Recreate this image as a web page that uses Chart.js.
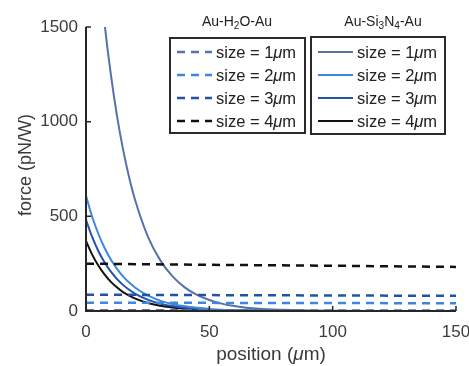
<!DOCTYPE html>
<html><head><meta charset="utf-8">
<script src="https://cdn.jsdelivr.net/npm/chart.js@4/dist/chart.umd.min.js"></script>
<style>html,body{margin:0;padding:0;background:#fff}canvas{display:block}</style>
</head><body>
<canvas id="c" width="469" height="366"></canvas>
<script>
// ---- data ----
const positions = [0,2.5,5,7.5,10,12.5,15,17.5,20,25,30,35,40,45,50,55,60,70,80,90,100,125,150];
const si1 = [2710,2236,1845,1522,1256,1036,855,705,582,396,270,184,125,85,58,39,27,12,6,3,1,0,0];
const si2 = [608,498,408,334,273,224,183,150,123,82,55,37,25,17,11,7,5,2,1,0,0,0,0];
const si3 = [481,391,317,257,209,170,138,112,91,60,39,26,17,11,7,5,3,1,0,0,0,0,0];
const si4 = [370,298,240,193,155,125,100,81,65,42,28,19,12,8,5,3,2,1,0,0,0,0,0];
const flatPositions = [0,50,100,150];
const h2o1 = [4,4,3,3];
const h2o2 = [44,43,42,41];
const h2o3 = [86,84,82,80];
const h2o4 = [250,244,239,233];
const sizeLabels = ['1','2','3','4'];
const yTicks = [0,500,1000,1500];
const xTicks = [0,50,100,150];

const colors = ['#5573a8','#3d88dc','#2452a6','#111111'];
const FONT = '"Liberation Sans", Arial, Helvetica, sans-serif';

function pts(xs, ys){ return xs.map((x,i)=>({x:x,y:ys[i]})); }

const h2o = [h2o1,h2o2,h2o3,h2o4];
const si = [si1,si2,si3,si4];
const datasets = [];
h2o.forEach((d,i)=>datasets.push({
  label:'H2O size = '+sizeLabels[i], group:'h2o', idx:i,
  data:pts(flatPositions,d), borderColor:colors[i], borderWidth:2.5,
  borderDash:[8,6], pointRadius:0, fill:false, tension:0
}));
si.forEach((d,i)=>datasets.push({
  label:'Si3N4 size = '+sizeLabels[i], group:'si', idx:i,
  data:pts(positions,d), borderColor:colors[i], borderWidth:2,
  pointRadius:0, fill:false, cubicInterpolationMode:'monotone'
}));

function drawRich(ctx, parts, x, y, size, color, align){
  let total = 0;
  const metrics = parts.map(p=>{
    const fs = p.sub ? size*0.72 : size;
    ctx.font = (p.italic?'italic ':'') + fs + 'px ' + FONT;
    const w = ctx.measureText(p.t).width;
    total += w; return {fs,w};
  });
  let cx = align==='center' ? x - total/2 : (align==='right' ? x-total : x);
  ctx.fillStyle = color; ctx.textBaseline = 'alphabetic'; ctx.textAlign='left';
  parts.forEach((p,i)=>{
    ctx.font = (p.italic?'italic ':'') + metrics[i].fs + 'px ' + FONT;
    ctx.fillText(p.t, cx, y + (p.sub ? size*0.22 : 0));
    cx += metrics[i].w;
  });
}

const decor = {
  id:'decor',
  afterDraw(chart){
    const ctx = chart.ctx, ca = chart.chartArea;
    const xs = chart.scales.x, ys = chart.scales.y;
    ctx.save();
    ctx.strokeStyle = '#262626'; ctx.lineWidth = 2; ctx.setLineDash([]);
    ctx.beginPath();
    ctx.moveTo(ca.left, ys.getPixelForValue(1500));
    ctx.lineTo(ca.left, ys.getPixelForValue(0));
    ctx.lineTo(xs.getPixelForValue(150), ys.getPixelForValue(0));
    ctx.stroke();
    ctx.lineWidth = 1.5;
    ctx.beginPath();
    yTicks.forEach(v=>{const p=ys.getPixelForValue(v); ctx.moveTo(ca.left,p); ctx.lineTo(ca.left+5,p);});
    xTicks.forEach(v=>{const p=xs.getPixelForValue(v); ctx.moveTo(p,ca.bottom); ctx.lineTo(p,ca.bottom-5);});
    ctx.stroke();

    drawRich(ctx,[{t:'position ('},{t:'\u03bc',italic:true},{t:'m)'}], (ca.left+ca.right)/2, 360, 19, '#3a3a3a','center');
    ctx.save();
    ctx.translate(31, 165); ctx.rotate(-Math.PI/2);
    drawRich(ctx,[{t:'force (pN/W)'}], 0, 0, 18, '#3a3a3a','center');
    ctx.restore();

    const boxes = [
      {group:'h2o', x:170, y:38, w:135, h:95, title:[{t:'Au-H'},{t:'2',sub:true},{t:'O-Au'}], tx:237},
      {group:'si',  x:311, y:37, w:134, h:97, title:[{t:'Au-Si'},{t:'3',sub:true},{t:'N'},{t:'4',sub:true},{t:'-Au'}], tx:383}
    ];
    boxes.forEach(b=>{
      drawRich(ctx,b.title,b.tx,26,14,'#222','center');
      ctx.strokeStyle='#2a2a2a'; ctx.lineWidth=2; ctx.setLineDash([]);
      ctx.strokeRect(b.x,b.y,b.w,b.h);
      const dss = chart.data.datasets.filter(d=>d.group===b.group);
      dss.forEach((d,i)=>{
        const cy = 52 + i*23;
        ctx.strokeStyle = d.borderColor; ctx.lineWidth = d.borderWidth;
        ctx.setLineDash(d.borderDash||[]);
        ctx.beginPath(); ctx.moveTo(b.x+7, cy); ctx.lineTo(b.x+42, cy); ctx.stroke();
        ctx.setLineDash([]);
        drawRich(ctx,[{t:'size = '+sizeLabels[d.idx]},{t:'\u03bc',italic:true},{t:'m'}], b.x+46, cy+6, 16.5, '#222','left');
      });
    });
    ctx.restore();
  }
};

new Chart(document.getElementById('c'), {
  type:'line',
  data:{datasets},
  options:{
    responsive:false, animation:false,
    layout:{padding:{top:27,right:13,left:0,bottom:0}},
    plugins:{legend:{display:false}, tooltip:{enabled:false}},
    scales:{
      x:{type:'linear', min:0, max:150,
        afterFit(s){s.height=55; s.paddingLeft=0; s.paddingRight=0;},
        afterBuildTicks(s){s.ticks = xTicks.map(v=>({value:v}));},
        grid:{display:false, drawTicks:false}, border:{display:false},
        ticks:{padding:11, color:'#3c3c3c', font:{size:17, family:FONT}, maxRotation:0, callback:v=>String(v)}},
      y:{type:'linear', min:0, max:1500,
        afterFit(s){s.width=86; s.paddingTop=0; s.paddingBottom=0;},
        afterBuildTicks(s){s.ticks = yTicks.map(v=>({value:v}));},
        grid:{display:false, drawTicks:false}, border:{display:false},
        ticks:{padding:8, color:'#3c3c3c', font:{size:17, family:FONT}, callback:v=>String(v)}}
    }
  },
  plugins:[decor]
});
</script>
</body></html>
